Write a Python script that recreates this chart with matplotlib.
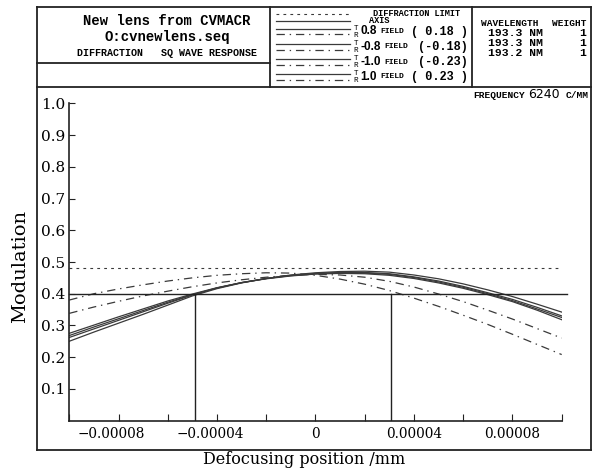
import numpy as np
import matplotlib
matplotlib.use("Agg")
import matplotlib.pyplot as plt
import matplotlib.transforms as mtransforms
from matplotlib.ticker import FixedLocator, FixedFormatter

plt.rcParams['lines.scale_dashes'] = False

# defocus grid (units of 1e-5 mm)
defocus_e5 = [-10, -9, -8, -7, -6, -5, -4, -3, -2, -1, 0, 1, 2, 3, 4, 5, 6, 7, 8, 9, 10]
defocus = np.array(defocus_e5) * 1e-5

# solid curves (axis + radial)
axis_mod = [0.262, 0.289, 0.316, 0.343, 0.370, 0.396, 0.418, 0.435, 0.448, 0.458, 0.464,
            0.467, 0.467, 0.463, 0.453, 0.440, 0.423, 0.403, 0.382, 0.357, 0.330]
rad_a = [0.275, 0.301, 0.327, 0.352, 0.377, 0.399, 0.419, 0.435, 0.447, 0.456, 0.462,
         0.464, 0.463, 0.458, 0.448, 0.434, 0.417, 0.397, 0.375, 0.348, 0.318]
rad_b = [0.268, 0.295, 0.321, 0.347, 0.373, 0.397, 0.418, 0.435, 0.448, 0.457, 0.463,
         0.466, 0.465, 0.461, 0.451, 0.437, 0.420, 0.400, 0.378, 0.352, 0.325]
rad_c = [0.250, 0.279, 0.307, 0.335, 0.364, 0.393, 0.416, 0.434, 0.448, 0.459, 0.466,
         0.470, 0.471, 0.468, 0.459, 0.447, 0.431, 0.412, 0.391, 0.367, 0.342]
# dash-dot curves
tan_a = [0.380, 0.400, 0.415, 0.428, 0.440, 0.450, 0.458, 0.463, 0.466, 0.465, 0.458,
         0.446, 0.430, 0.410, 0.386, 0.360, 0.332, 0.303, 0.272, 0.240, 0.208]
tan_b = [0.338, 0.358, 0.376, 0.393, 0.408, 0.422, 0.434, 0.444, 0.452, 0.458, 0.461,
         0.459, 0.452, 0.439, 0.421, 0.399, 0.375, 0.348, 0.320, 0.290, 0.260]

diff_limit = 0.48
threshold = 0.4
dof_left = -4.9e-5
dof_right = 3.05e-5

x_major = [-8e-5, -4e-5, 0, 4e-5, 8e-5]
x_major_labels = ['\u22120.00008', '\u22120.00004', '0', '0.00004', '0.00008']
x_minor = [-1e-4, -6e-5, -2e-5, 2e-5, 6e-5, 1e-4]
y_ticks = [0.1, 0.2, 0.3, 0.4, 0.5, 0.6, 0.7, 0.8, 0.9, 1.0]

field_rows = [('0.8', '( 0.18 )'), ('-0.8', '(-0.18)'), ('-1.0', '(-0.23)'), ('1.0', '( 0.23 )')]
wavelengths = ['193.3 NM', '193.3 NM', '193.2 NM']
weights = ['1', '1', '1']

ink = '#222222'
curve = '#3a3a3a'
dashdot = (0, (6, 3.5, 1, 3.5))

fig = plt.figure(figsize=(6.02, 4.69), dpi=100)

# plot area
ax = fig.add_axes([69.3 / 602, 48.5 / 469, 492.4 / 602, 317 / 469])
ax.set_xlim(-1e-4, 1e-4)
ax.set_ylim(0, 1.0)
for s in ['top', 'right']:
    ax.spines[s].set_visible(False)
for s in ['left', 'bottom']:
    ax.spines[s].set_color(ink)
    ax.spines[s].set_linewidth(1.2)

ax.plot(defocus, np.full(len(defocus), diff_limit), color=curve, lw=0.8, ls=(0, (2, 3)))
for ys in [axis_mod, rad_a, rad_b, rad_c]:
    ax.plot(defocus, ys, color=curve, lw=0.9)
for ys in [tan_a, tan_b]:
    ax.plot(defocus, ys, color=curve, lw=0.9, ls=dashdot)
ax.plot([-1e-4, 1.02e-4], [threshold, threshold], color=ink, lw=1.0, clip_on=False)
ax.plot([dof_left, dof_left], [0, threshold], color=ink, lw=1.0)
ax.plot([dof_right, dof_right], [0, threshold], color=ink, lw=1.0)

ax.xaxis.set_major_locator(FixedLocator(x_major))
ax.xaxis.set_major_formatter(FixedFormatter(x_major_labels))
ax.xaxis.set_minor_locator(FixedLocator(x_minor))
ax.yaxis.set_major_locator(FixedLocator(y_ticks))
ax.yaxis.set_major_formatter(FixedFormatter(['%.1f' % v for v in y_ticks]))
ax.tick_params(axis='x', which='both', direction='in', length=5, width=0.8, color=ink, pad=5)
ax.tick_params(axis='y', which='both', direction='in', length=4, width=0.8, color=ink, pad=3)
shift = mtransforms.ScaledTranslation(-7 / 100, 0, fig.dpi_scale_trans)
for lab in ax.get_xticklabels():
    lab.set_fontfamily('DejaVu Serif')
    lab.set_fontsize(9.8)
    if lab.get_text().startswith('\u2212'):
        lab.set_transform(lab.get_transform() + shift)
for lab in ax.get_yticklabels():
    lab.set_fontfamily('DejaVu Serif')
    lab.set_fontsize(11)

fig.text(20 / 602, 1 - 266 / 469, 'Modulation', rotation=90, ha='center', va='center',
         family='DejaVu Serif', fontsize=14)
fig.text(304 / 602, 1 - 459.5 / 469, 'Defocusing position /mm', ha='center', va='center',
         family='DejaVu Serif', fontsize=11.5)

# frame and header in pixel coordinates
fr = fig.add_axes([0, 0, 1, 1], zorder=-1)
fr.set_xlim(0, 602)
fr.set_ylim(469, 0)
fr.axis('off')
fr.patch.set_alpha(0)

def seg(x0, y0, x1, y1, lw=1.3):
    fr.plot([x0, x1], [y0, y1], color=ink, lw=lw, solid_capstyle='projecting')

frame_bottom = 450
seg(37, 7, 591, 7)
seg(37, frame_bottom, 591, frame_bottom)
seg(37, 7, 37, frame_bottom)
seg(591, 7, 591, frame_bottom)
seg(37, 87, 591, 87)
seg(37, 63, 270, 63)
seg(270, 7, 270, 87)
seg(472, 7, 472, 87)

mono = 'Liberation Mono'
fr.text(167, 21, 'New lens from CVMACR', ha='center', va='center', family=mono,
        weight='bold', fontsize=10)
fr.text(167, 37.5, 'O:cvnewlens.seq', ha='center', va='center', family=mono,
        weight='bold', fontsize=10)
fr.text(167, 53, 'DIFFRACTION   SQ WAVE RESPONSE', ha='center', va='center', family=mono,
        weight='bold', fontsize=7.2)

# legend
lx0, lx1 = 276, 350
fr.plot([lx0, lx1], [14, 14], color=curve, lw=0.8, ls=(0, (2, 3)))
fr.plot([lx0, lx1], [21, 21], color=curve, lw=0.9)
fr.text(373, 13, 'DIFFRACTION LIMIT', ha='left', va='center', family=mono,
        weight='bold', fontsize=6.2)
fr.text(369, 20.5, 'AXIS', ha='left', va='center', family=mono, weight='bold', fontsize=6.2)
row_y = [31.5, 47, 62, 77]
for (num, par), yy in zip(field_rows, row_y):
    fr.plot([lx0, lx1], [yy - 2.5, yy - 2.5], color=curve, lw=0.9)
    fr.plot([lx0, lx1], [yy + 3, yy + 3], color=curve, lw=0.9, ls=dashdot)
    fr.text(356, yy - 3.3, 'T', ha='center', va='center', family=mono, fontsize=5.5)
    fr.text(356, yy + 3.6, 'R', ha='center', va='center', family=mono, fontsize=5.5)
    fr.text(360.5, yy, num, ha='left', va='center', family='Liberation Sans',
            weight='bold', fontsize=8.5)
    fr.text(384 if num.startswith('-') else 380, yy, 'FIELD', ha='left', va='center',
            family=mono, weight='bold', fontsize=5.8)
    fr.text(468, yy, par, ha='right', va='center', family=mono, weight='bold', fontsize=8.6)

# wavelength box
fr.text(481, 24, 'WAVELENGTH', ha='left', va='center', family=mono, weight='bold', fontsize=6.8)
fr.text(586, 24, 'WEIGHT', ha='right', va='center', family=mono, weight='bold', fontsize=6.8)
for i, (wl, wt) in enumerate(zip(wavelengths, weights)):
    yy = 33.5 + 10 * i
    fr.text(488, yy, wl, ha='left', va='center', family=mono, weight='bold', fontsize=8.2)
    fr.text(586, yy, wt, ha='right', va='center', family=mono, weight='bold', fontsize=8.2)

fr.text(525, 95, 'FREQUENCY', ha='right', va='center', family=mono, weight='bold', fontsize=6.8)
fr.text(543.5, 95, '6240', ha='center', va='center', family='DejaVu Sans', fontsize=9)
fr.text(589, 95, 'C/MM', ha='right', va='center', family=mono, weight='bold', fontsize=6.8)

fig.savefig('out.png', dpi=100)
